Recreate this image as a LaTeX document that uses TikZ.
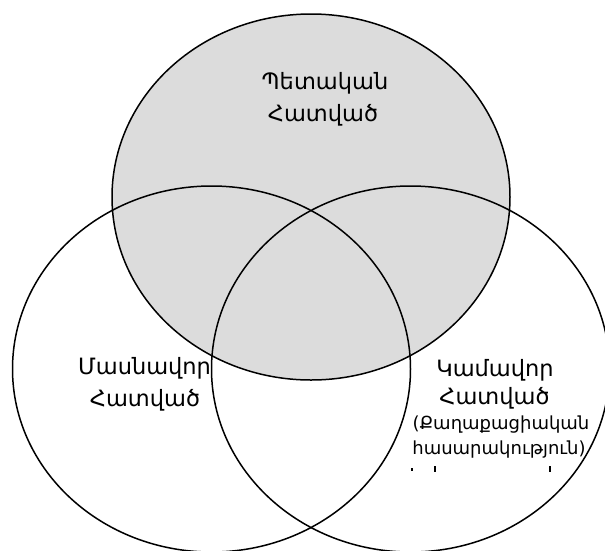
\documentclass[tikz,border=0pt]{standalone}
\usepackage{fontspec}
\newfontfamily\armfont{DejaVu Sans}
\definecolor{stategrey}{RGB}{220,220,220}
\begin{document}
\begin{tikzpicture}[x=1pt,y=-1pt,
  setline/.style={draw=black,line width=1.5pt},
  bigtxt/.style={font=\armfont\fontsize{22.5}{26}\selectfont,inner sep=0pt},
  smalltxt/.style={font=\armfont\fontsize{18}{21}\selectfont,inner sep=0pt},
  tickmark/.style={draw=black,line width=1.2pt}]
\useasboundingbox (0,0) rectangle (605,550);
\clip (0,0) rectangle (605,550);
\fill[stategrey] (311,197) ellipse [x radius=199,y radius=183];
\draw[setline] (311,197) ellipse [x radius=199,y radius=183];
\draw[setline] (211.5,369) ellipse [x radius=199,y radius=183];
\draw[setline] (410.5,369) ellipse [x radius=199,y radius=183];
\node[bigtxt] (t1) at (325,83) {Պետական};
\node[bigtxt] (t2) at (323,115) {Հատված};
\node[bigtxt] (l1) at (144.5,368) {Մասնավոր};
\node[bigtxt] (l2) at (145,400) {Հատված};
\node[bigtxt] (r1) at (495,370) {Կամավոր};
\node[bigtxt] (r2) at (494.5,398) {Հատված};
\node[smalltxt] (r3) at (501,425) {(Քաղաքացիական};
\node[smalltxt] (r4) at (499,450) {հասարակություն)};
\draw[tickmark] (412,468) -- (412,471);
\draw[tickmark] (435,466) -- (435,472);
\draw[tickmark] (550,466) -- (550,472);
\end{tikzpicture}
\end{document}
